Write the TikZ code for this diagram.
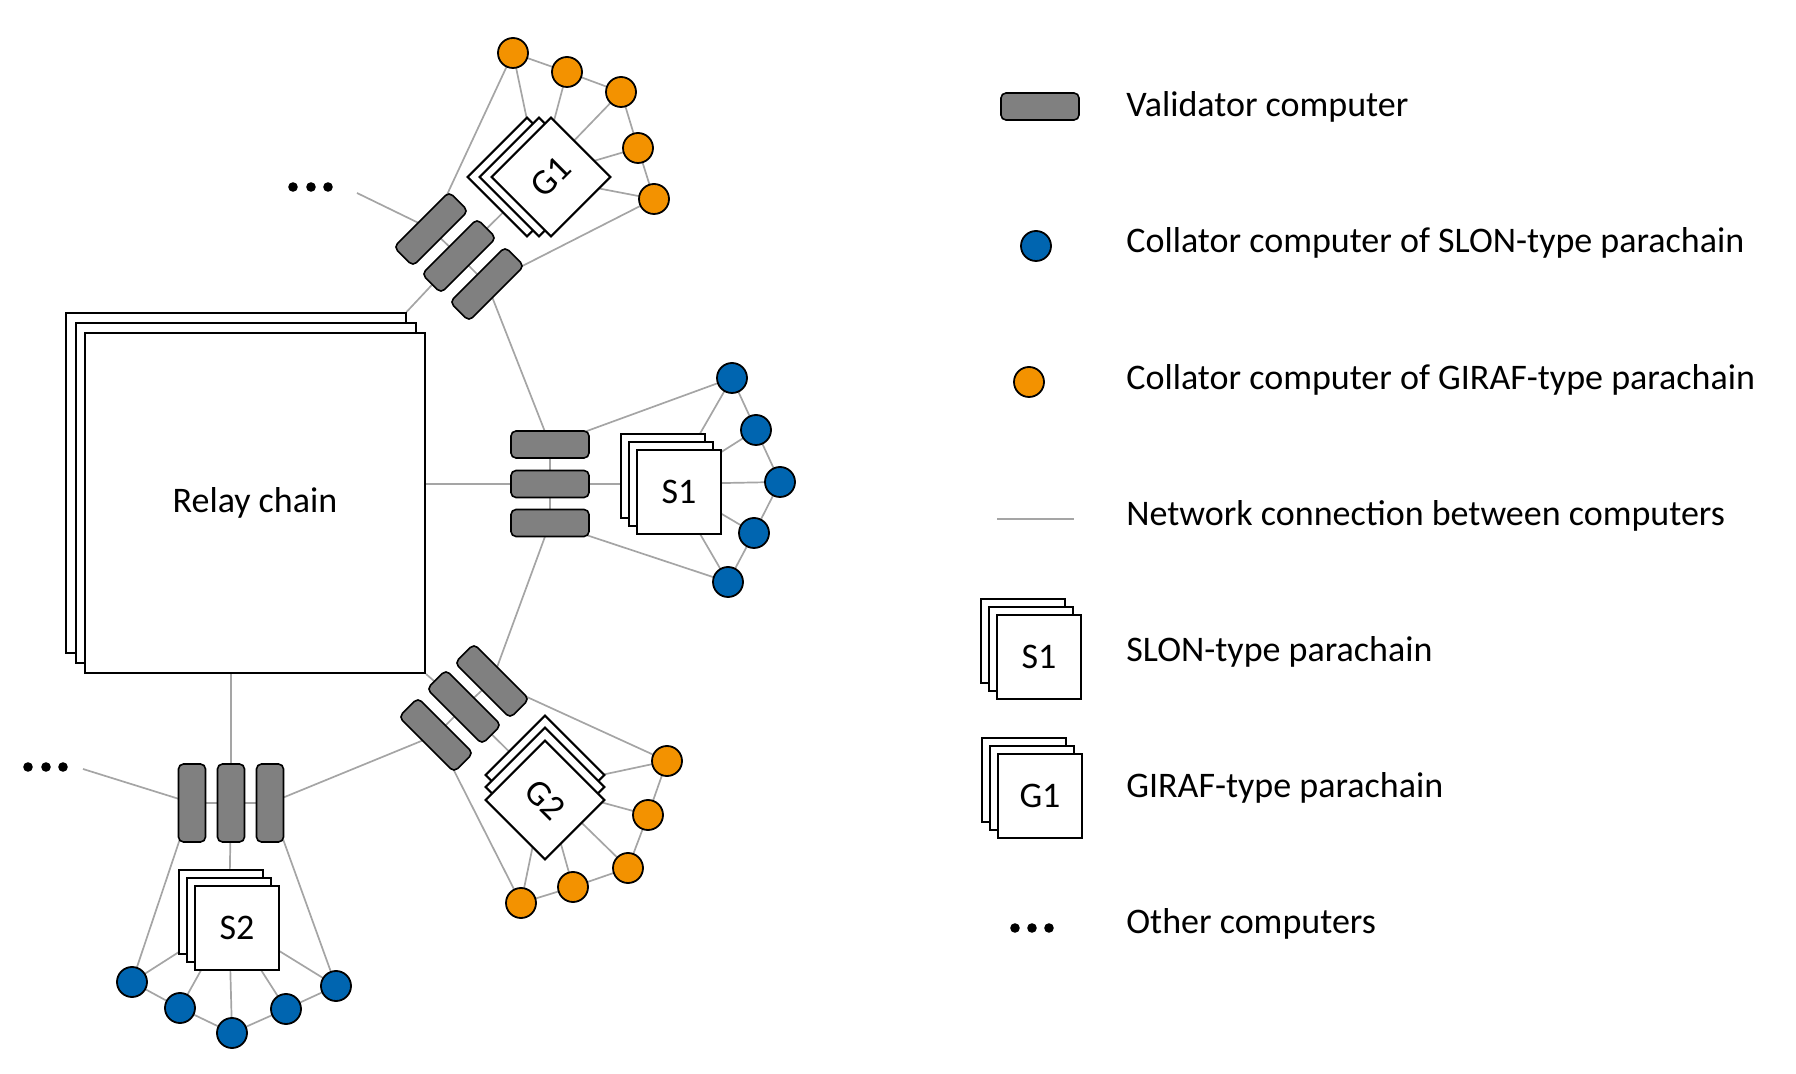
\documentclass[tikz,border=0pt]{standalone}
\usepackage{fontspec}
\setmainfont{Carlito}
\usetikzlibrary{backgrounds}
\definecolor{slonblue}{RGB}{0,101,176}
\definecolor{girafor}{RGB}{243,146,0}
\definecolor{valgray}{RGB}{128,128,128}
\definecolor{netgray}{RGB}{165,165,165}
\begin{document}
\begin{tikzpicture}[x=0.5pt,y=-0.5pt,
  validator/.style={draw=black, line width=0.8pt, fill=valgray, rounded corners=2.5pt, minimum width=39pt, minimum height=13.5pt, inner sep=0pt},
  slon/.style={circle, draw=black, line width=0.9pt, fill=slonblue, minimum size=15pt, inner sep=0pt},
  giraf/.style={circle, draw=black, line width=0.9pt, fill=girafor, minimum size=15pt, inner sep=0pt},
  chainbox/.style={draw=black, line width=1pt, fill=white, minimum size=42pt, inner sep=0pt, font=\fontsize{18}{21}\selectfont},
  relaybox/.style={chainbox, minimum size=170pt},
  net/.style={draw=netgray, line width=0.85pt},
  legtext/.style={anchor=base west, inner sep=0pt, font=\fontsize{18}{21}\selectfont},
  dotfill/.style={fill=black}
]
\useasboundingbox (0,0) rectangle (1796,1074);

% Relay chain
\node[relaybox] (relayback) at (235.5,483) {};
\node[relaybox] (relaymid) at (245.5,493) {};
\node[relaybox] (relay) at (255,503) {Relay chain};

% G1 cluster
\node[validator, rotate=45] (g1v1) at (431,229) {};
\node[validator, rotate=45] (g1v2) at (459,256) {};
\node[validator, rotate=45] (g1v3) at (487,284) {};
\node[chainbox, rotate=45] (g1back) at (527,177) {};
\node[chainbox, rotate=45] (g1mid) at (539,177) {};
\node[chainbox, rotate=45] (g1) at (551,177) {G1};
\node[giraf] (g1c1) at (513,53) {};
\node[giraf] (g1c2) at (567,72) {};
\node[giraf] (g1c3) at (621,92) {};
\node[giraf] (g1c4) at (638,148) {};
\node[giraf] (g1c5) at (654,199) {};
\coordinate (g1free) at (357,193);
\fill[dotfill] (293,187) circle[radius=2.4pt] (311,187) circle[radius=2.4pt] (328,187) circle[radius=2.4pt];

% S1 cluster
\node[validator] (s1v1) at (550,444.5) {};
\node[validator] (s1v2) at (550,484) {};
\node[validator] (s1v3) at (550,523) {};
\node[chainbox] (s1back) at (663,476) {};
\node[chainbox] (s1mid) at (671,484) {};
\node[chainbox] (s1) at (679,492) {S1};
\node[slon] (s1c1) at (732,378) {};
\node[slon] (s1c2) at (756,430) {};
\node[slon] (s1c3) at (780,482) {};
\node[slon] (s1c4) at (754,533) {};
\node[slon] (s1c5) at (728,582) {};

% G2 cluster
\node[validator, rotate=-45] (g2v1) at (492,681) {};
\node[validator, rotate=-45] (g2v2) at (464,707) {};
\node[validator, rotate=-45] (g2v3) at (436,735) {};
\node[chainbox, rotate=-45] (g2back) at (545,775) {};
\node[chainbox, rotate=-45] (g2mid) at (545,787) {};
\node[chainbox, rotate=-45] (g2) at (545,800) {G2};
\node[giraf] (g2c1) at (667,761) {};
\node[giraf] (g2c2) at (648,815) {};
\node[giraf] (g2c3) at (628,868) {};
\node[giraf] (g2c4) at (573,887) {};
\node[giraf] (g2c5) at (521,903) {};

% S2 cluster
\node[validator, rotate=90] (s2v1) at (270,803) {};
\node[validator, rotate=90] (s2v2) at (231,803) {};
\node[validator, rotate=90] (s2v3) at (192,803) {};
\node[chainbox] (s2back) at (221,912) {};
\node[chainbox] (s2mid) at (229,920) {};
\node[chainbox] (s2) at (237,928) {S2};
\node[slon] (s2c1) at (132,982) {};
\node[slon] (s2c2) at (180,1008) {};
\node[slon] (s2c3) at (232,1033) {};
\node[slon] (s2c4) at (286,1009) {};
\node[slon] (s2c5) at (336,986) {};
\coordinate (s2free) at (83,769);
\fill[dotfill] (28,767) circle[radius=2.4pt] (46,767) circle[radius=2.4pt] (63,767) circle[radius=2.4pt];

% Connections
\begin{scope}[on background layer]
  % G1
  \draw[net] (g1free) -- (g1v1.center);
  \draw[net] (g1v1.center) -- (g1v2.center) -- (g1v3.center);
  \draw[net] (g1v1.center) -- (g1c1.center);
  \draw[net] (g1v3.center) -- (g1c5.center);
  \draw[net] (g1v2.center) -- (g1mid.center);
  \foreach \i in {1,...,5} {\draw[net] (g1mid.center) -- (g1c\i.center);}
  \draw[net] (g1c1.center) -- (g1c2.center) -- (g1c3.center) -- (g1c4.center) -- (g1c5.center);
  \draw[net] (relayback.north east) -- (g1v2.center);
  \draw[net] (g1v3.center) -- (s1v1.center);
  % S1
  \draw[net] (s1v2.center) -- (s1v2 -| relay.east);
  \draw[net] (s1v1.center) -- (s1v2.center) -- (s1v3.center);
  \draw[net] (s1v2.center) -- (s1mid.center);
  \draw[net] (s1v1.center) -- (s1c1.center);
  \draw[net] (s1v3.center) -- (s1c5.center);
  \foreach \i in {1,...,5} {\draw[net] (s1mid.center) -- (s1c\i.center);}
  \draw[net] (s1c1.center) -- (s1c2.center) -- (s1c3.center) -- (s1c4.center) -- (s1c5.center);
  \draw[net] (s1v3.center) -- (g2v1.center);
  % G2
  \draw[net] (relay.south east) -- (g2v2.center);
  \draw[net] (g2v1.center) -- (g2v2.center) -- (g2v3.center);
  \draw[net] (g2v2.center) -- (g2mid.center);
  \draw[net] (g2v1.center) -- (g2c1.center);
  \draw[net] (g2v3.center) -- (g2c5.center);
  \foreach \i in {1,...,5} {\draw[net] (g2mid.center) -- (g2c\i.center);}
  \draw[net] (g2c1.center) -- (g2c2.center) -- (g2c3.center) -- (g2c4.center) -- (g2c5.center);
  \draw[net] (s2v1.center) -- (g2v3.center);
  % S2
  \draw[net] (s2v2.center) -- (s2v2 |- relay.south);
  \draw[net] (s2free) -- (s2v3.center);
  \draw[net] (s2v1.center) -- (s2v2.center) -- (s2v3.center);
  \draw[net] (s2v2.center) -- (s2mid.center);
  \draw[net] (s2v3.center) -- (s2c1.center);
  \draw[net] (s2v1.center) -- (s2c5.center);
  \foreach \i in {1,...,5} {\draw[net] (s2mid.center) -- (s2c\i.center);}
  \draw[net] (s2c1.center) -- (s2c2.center) -- (s2c3.center) -- (s2c4.center) -- (s2c5.center);
\end{scope}

% Legend
\node[validator] (legval) at (1040,106.5) {};
\node[legtext] (legvaltext) at (1126,117) {Validator computer};
\node[slon] (legslon) at (1036,246) {};
\node[legtext] (legslontext) at (1126,253) {Collator computer of SLON-type parachain};
\node[giraf] (leggiraf) at (1029,382) {};
\node[legtext] (leggiraftext) at (1126,390) {Collator computer of GIRAF-type parachain};
\coordinate (legnetA) at (997,519);
\coordinate (legnetB) at (1074,519);
\draw[net] (legnetA) -- (legnetB);
\node[legtext] (legnettext) at (1126,526) {Network connection between computers};
\node[chainbox] (legsback) at (1023,641) {};
\node[chainbox] (legsmid) at (1031,649) {};
\node[chainbox] (legs) at (1039,657) {S1};
\node[legtext] (legstext) at (1126,662) {SLON-type parachain};
\node[chainbox] (leggback) at (1024,780) {};
\node[chainbox] (leggmid) at (1032,788) {};
\node[chainbox] (legg) at (1040,796) {G1};
\node[legtext] (leggtext) at (1126,798) {GIRAF-type parachain};
\fill[dotfill] (1015,928) circle[radius=2.4pt] (1032,928) circle[radius=2.4pt] (1049,928) circle[radius=2.4pt];
\node[legtext] (legdottext) at (1126,934) {Other computers};
\end{tikzpicture}
\end{document}
